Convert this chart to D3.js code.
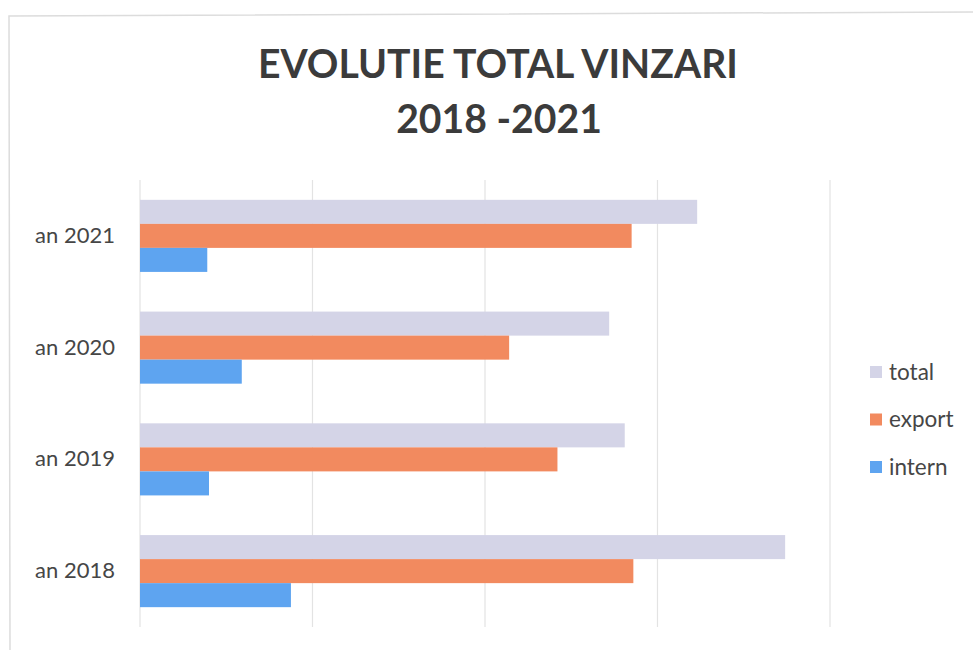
<!DOCTYPE html>
<html>
<head>
<meta charset="utf-8">
<script src="https://cdn.jsdelivr.net/npm/d3@7"></script>
<style>
  body { margin: 0; background: #fff; }
  svg { display: block; }
</style>
</head>
<body>
<svg id="chart" width="973" height="650"></svg>
<script>
// Data (units of one grid step)
const years = ['an 2021', 'an 2020', 'an 2019', 'an 2018'];
const series = ['total', 'export', 'intern'];
const total = [3.23, 2.72, 2.81, 3.74];
const exportVals = [2.85, 2.14, 2.42, 2.86];
const intern = [0.39, 0.59, 0.40, 0.875];
const xTicks = [0, 1, 2, 3, 4];

const COLORS = { total: '#d4d4e7', export: '#f28a5f', intern: '#5ea4f0' };
const values = { total: total, export: exportVals, intern: intern };

const svg = d3.select('#chart');
const W = 973, H = 650;

// Faint frame of the photographed chart area
svg.append('path')
    .attr('d', `M10,${H} L9,16 L${W},12`)
    .attr('fill', 'none')
    .attr('stroke', '#dcdcdc')
    .attr('stroke-width', 1.5);

// --- Title ---
const title = svg.append('g').attr('class', 'title')
    .attr('font-family', 'Lato, "Open Sans", sans-serif')
    .attr('font-weight', 'bold')
    .attr('fill', '#3b3b3b')
    .attr('text-anchor', 'middle');

const t1 = title.append('text').attr('x', 498).attr('y', 78)
    .attr('font-size', 36).text('EVOLUTIE TOTAL VINZARI');
// fit to the measured width of the reference title
const w1 = t1.node().getComputedTextLength();
const fs = 36 * 480 / w1;
t1.attr('font-size', fs);
title.append('text').attr('x', 499).attr('y', 133)
    .attr('font-size', fs).text('2018 -2021');

// --- Plot ---
const margin = { left: 140, right: 830, top: 180, bottom: 627 };

const x = d3.scaleLinear()
    .domain([0, 4])
    .range([margin.left, margin.right]);

const y = d3.scaleBand()
    .domain(years)
    .range([margin.top, margin.bottom])
    .paddingInner(0.355)
    .paddingOuter(0.355 / 2);

const ySub = d3.scaleBand()
    .domain(series)
    .range([0, y.bandwidth()]);

// Vertical gridlines
svg.append('g').attr('class', 'grid')
    .selectAll('line')
    .data(xTicks)
    .enter()
    .append('line')
    .attr('x1', d => x(d))
    .attr('x2', d => x(d))
    .attr('y1', margin.top)
    .attr('y2', margin.bottom)
    .attr('stroke', '#e3e3e3')
    .attr('stroke-width', 1.2);

// Bars
const groups = svg.append('g').attr('class', 'bars')
    .selectAll('g')
    .data(years)
    .enter()
    .append('g')
    .attr('transform', d => `translate(0,${y(d)})`);

groups.selectAll('rect')
    .data((d, i) => series.map(s => ({ key: s, value: values[s][i] })))
    .enter()
    .append('rect')
    .attr('x', x(0))
    .attr('y', d => ySub(d.key))
    .attr('width', d => x(d.value) - x(0))
    .attr('height', ySub.bandwidth())
    .attr('fill', d => COLORS[d.key]);

// Category axis labels
const yAxis = d3.axisLeft(y).tickSize(0).tickPadding(0);
const yG = svg.append('g')
    .attr('transform', `translate(115,0)`)
    .call(yAxis);
yG.select('.domain').remove();
yG.selectAll('text')
    .attr('font-family', 'Lato, "Open Sans", sans-serif')
    .attr('font-size', 22)
    .attr('fill', '#464646');

// Legend
const legend = svg.append('g').attr('class', 'legend')
    .attr('transform', 'translate(870,372)');

const li = legend.selectAll('g')
    .data(series)
    .enter()
    .append('g')
    .attr('transform', (d, i) => `translate(0,${i * 47.5})`);

li.append('rect')
    .attr('x', 0).attr('y', -6)
    .attr('width', 12).attr('height', 12)
    .attr('fill', d => COLORS[d]);

li.append('text')
    .attr('x', 19)
    .attr('dy', '0.35em')
    .attr('font-family', 'Lato, "Open Sans", sans-serif')
    .attr('font-size', 22.5)
    .attr('fill', '#464646')
    .text(d => d);
</script>
</body>
</html>
